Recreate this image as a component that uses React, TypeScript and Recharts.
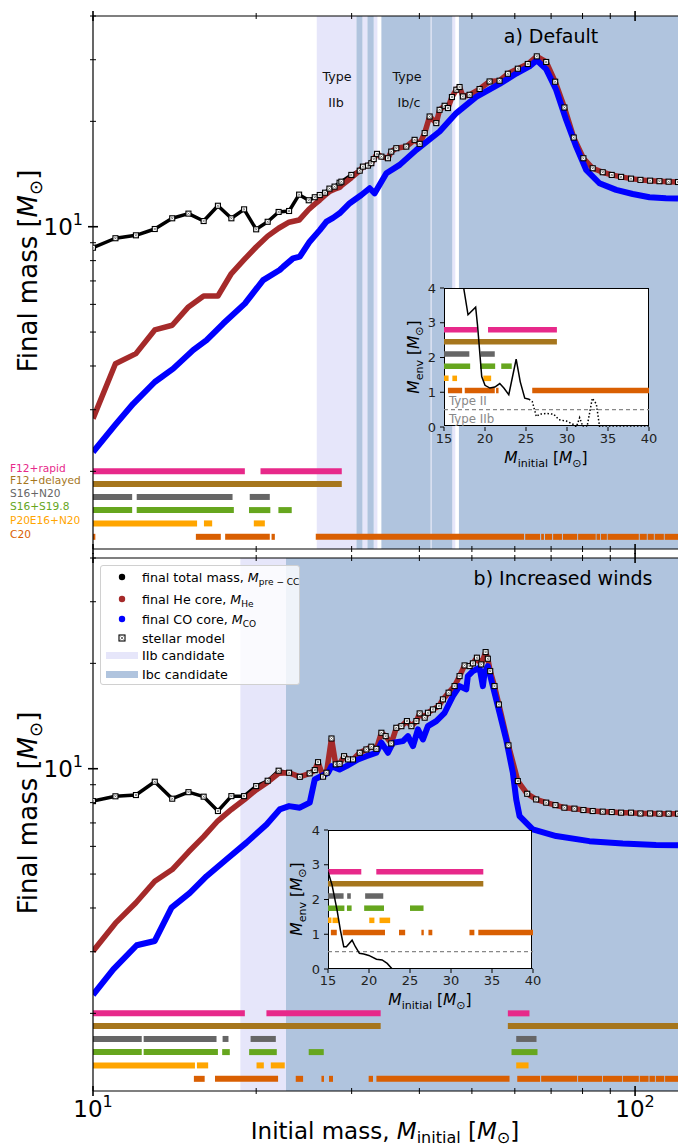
import React from 'react'
import { ComposedChart, Line, XAxis, YAxis, ReferenceArea, ReferenceLine } from 'recharts'

const FONT = 'DejaVu Sans, sans-serif'

// ---------- a) Default ----------
// low masses: total mass and He core differ
const aLowMass = [10, 11, 12, 13, 14, 15, 16, 17, 18, 19, 20, 21, 22, 23, 24, 25, 25.65, 26.2, 26.8, 27.3, 27.9, 28.5, 28.72, 29.96]
const aTotalLow = [8.71, 9.27, 9.45, 9.85, 10.57, 10.9, 10.38, 11.48, 10.57, 11.21, 9.83, 10.33, 11.02, 11.09, 12.35, 11.9, 12.14, 12.32, 12.51, 12.85, 13.02, 13.36, 13.45, 14.06]
const aHeLow = [2.83, 4.06, 4.34, 5.07, 5.23, 5.9, 6.34, 6.34, 7.35, 8.05, 8.75, 9.4, 9.9, 10.3, 10.45, 11.2, 11.6, 11.92, 12.3, 12.6, 12.8, 12.95, 13.1, 13.8]
// stripped stars: total mass == He core
const aStripMass = [31.05, 31.47, 32.16, 32.62, 32.95, 33.41, 34.04, 35.0, 35.5, 36.27, 37.84, 39.2, 40.05, 40.91, 41.78, 42.98, 43.59, 44.53, 45.16, 45.93, 46.8, 47.45, 48.12, 49.51, 51.66, 53.9, 56.23, 58.25, 60.77, 63.4, 65.87, 68.55, 71.22, 74.07, 77.06, 80.29, 83.53, 87.16, 90.56, 94.24, 98.3, 102.3, 106.6, 110.9, 115.3, 120]
const aStripFinal = [14.46, 14.85, 14.95, 15.19, 15.6, 16.15, 15.86, 15.69, 16.39, 16.76, 16.94, 17.71, 17.25, 18.51, 20.65, 19.77, 21.58, 22.16, 21.83, 23.47, 24.63, 25.07, 23.56, 23.82, 24.74, 26.0, 26.13, 27.36, 28.28, 29.17, 30.67, 29.56, 25.96, 21.91, 17.98, 15.69, 14.69, 14.31, 14.06, 13.88, 13.72, 13.61, 13.54, 13.49, 13.45, 13.42]
const aCoMass = [10, 10.98, 11.86, 13, 14.06, 15.3, 16.2, 17.39, 19.06, 20.6, 22.1, 22.42, 23.39, 24.07, 25.1, 26.2, 26.96, 27.72, 28.5, 29.76, 31.26, 32.39, 33.08, 34.77, 36.79, 39.5, 43.59, 46.8, 50.93, 56.23, 60.36, 63.85, 65.87, 68.55, 71.51, 74.62, 77.88, 81.23, 85.95, 92.27, 99.0, 106.3, 114.0, 120]
const aCo = [2.27, 2.71, 3.12, 3.6, 3.93, 4.44, 4.74, 5.29, 6.03, 7.04, 7.52, 7.68, 8.12, 8.21, 9.06, 9.78, 10.34, 10.6, 10.92, 11.67, 12.32, 12.88, 12.46, 14.22, 15.02, 16.58, 18.71, 21.12, 23.5, 25.6, 27.4, 28.7, 29.9, 28.2, 24.63, 20.21, 16.94, 14.53, 13.31, 12.74, 12.4, 12.14, 12.06, 12.04]
const aIIb = [[25.87, 30.62], [31.41, 32.08], [32.95, 33.47], [41.96, 42.14], [46.0, 46.6]]
const aIbc = [[30.62, 31.41], [32.08, 32.95], [34.04, 41.96], [42.14, 46.0], [47.32, 120]]
// explodability predictions (mass ranges that explode)
const aRapid = [[10, 19.06], [20.37, 28.77]]
const aDelayed = [[10, 28.77]]
const aS16N20 = [[10, 11.81], [12.04, 18.09], [19.46, 21.19]]
const aS16S198 = [[10, 11.81], [12.04, 18.19], [19.4, 21.24], [21.98, 23.26]]
const aP20 = [[10, 15.56], [16.02, 16.59], [19.8, 20.75]]
const aC20 = [[10, 10.1], [15.48, 17.21], [17.53, 21.19], [21.35, 21.65], [25.76, 62.4], [62.7, 66.8], [67.1, 67.9], [68.2, 70.3], [70.6, 73.3], [73.6, 78.2], [78.5, 84.6], [84.9, 86.2], [86.5, 88.7], [89.0, 101.6], [102.0, 105.1], [105.5, 108.3], [108.7, 113.0], [113.4, 120]]
// inset: envelope mass
const aEnvMass = [17.2, 17.4, 17.93, 18.86, 19.1, 19.6, 20.0, 20.6, 21.2, 21.8, 22.3, 22.9, 23.8, 24.3, 24.85, 25.37]
const aEnv = [4.6, 4.0, 3.23, 3.45, 2.9, 1.45, 1.2, 1.12, 1.15, 1.25, 1.12, 0.93, 1.95, 1.3, 0.83, 0.8]
const aEnvMassDot = [25.37, 25.77, 26.26, 26.67, 27.48, 28.37, 29.02, 29.92, 30.73, 31.14, 31.54, 31.95, 32.44, 33.09, 33.58, 33.98, 40]
const aEnvDot = [0.8, 0.73, 0.3, 0.37, 0.39, 0.37, 0.21, 0.17, 0.08, 0, 0.27, 0, 0, 0.83, 0.66, 0, 0]

// ---------- b) Increased winds ----------
const bLowMass = [10, 11, 12, 13, 14, 15, 16, 17, 18, 19, 20, 21, 22]
const bTotalLow = [8.08, 8.34, 8.41, 9.18, 8.21, 8.57, 8.32, 7.57, 8.35, 8.35, 8.92, 9.24, 9.87]
const bHeLow = [3.01, 3.62, 4.14, 4.77, 5.15, 5.78, 6.4, 7.1, 7.65, 8.15, 8.7, 9.15, 9.7]
const bStripMass = [23, 24.07, 25.1, 25.65, 26.01, 26.57, 26.96, 27.54, 28.04, 28.5, 29.05, 29.54, 30.18, 31.05, 31.94, 32.62, 33.33, 34.04, 34.66, 35.5, 36.27, 37.06, 37.94, 38.67, 39.5, 40.05, 40.91, 41.48, 42.37, 43.45, 44.21, 45.29, 46.45, 47.45, 48.47, 49.51, 50.21, 51.07, 52.03, 53.0, 53.5, 54.05, 55.04, 56.07, 58.4, 60.77, 63.24, 65.7, 68.55, 71.3, 74.07, 77.29, 80.29, 83.53, 87.16, 90.56, 94.24, 98.3, 102.3, 106.6, 110.9, 115.3, 120]
const bStripFinal = [9.74, 9.48, 9.7, 9.91, 10.44, 9.49, 9.74, 12.2, 10.29, 10.33, 10.86, 10.63, 10.63, 11.11, 11.35, 11.56, 11.4, 12.67, 12.39, 11.81, 13.09, 13.23, 13.68, 13.23, 13.68, 14.39, 13.99, 14.45, 14.77, 15.1, 15.78, 16.49, 17.22, 18.39, 19.73, 19.64, 20.0, 20.76, 19.86, 21.54, 20.62, 19.0, 17.22, 15.26, 11.66, 9.22, 8.48, 8.17, 8.0, 7.87, 7.74, 7.69, 7.62, 7.57, 7.54, 7.52, 7.49, 7.49, 7.45, 7.45, 7.44, 7.44, 7.44]
const bCoMass = [10, 10.9, 12.04, 13.0, 13.96, 15.09, 16.2, 17.64, 19.19, 20.9, 22.1, 23.0, 24.07, 25.11, 25.65, 26.39, 27.15, 27.54, 28.5, 29.35, 30.82, 31.94, 33.33, 34.04, 35.0, 35.76, 37.31, 38.11, 38.93, 39.76, 40.61, 41.48, 42.98, 44.53, 46.12, 47.45, 48.82, 49.15, 50.21, 51.66, 52.39, 52.76, 53.5, 54.65, 56.23, 57.84, 59.5, 60.36, 61.22, 64.75, 71.51, 82.37, 94.89, 109.3, 120]
const bCo = [2.26, 2.67, 3.13, 3.22, 4.01, 4.42, 4.93, 5.51, 6.15, 6.93, 7.65, 7.82, 7.74, 8.0, 9.32, 9.53, 9.74, 10.17, 9.95, 10.17, 10.63, 10.86, 11.11, 11.87, 11.11, 11.87, 11.99, 12.39, 11.6, 12.95, 12.12, 13.23, 13.68, 14.45, 16.12, 17.22, 16.85, 18.39, 19.0, 19.43, 17.22, 18.8, 19.64, 17.22, 14.45, 12.12, 9.74, 8.17, 7.32, 6.71, 6.42, 6.21, 6.11, 6.05, 6.04]
const bIIb = [[18.7, 22.7]]
const bIbc = [[22.7, 120]]
const bRapid = [[10, 19.06], [20.89, 33.94], [58.25, 63.85]]
const bDelayed = [[10, 33.94], [58.25, 120]]
const bS16N20 = [[10, 12.3], [12.4, 16.9], [17.34, 17.78], [19.53, 21.74], [60.36, 65.79]]
const bS16S198 = [[10, 12.3], [12.4, 17.0], [17.31, 17.88], [19.41, 21.83], [25.0, 26.65], [59.16, 66.07]]
const bP20 = [[10, 15.42], [15.55, 16.31], [20.03, 20.66], [21.28, 22.58], [60.36, 63.6]]
const bC20 = [[15.35, 16.07], [16.79, 21.95], [23.66, 24.41], [26.39, 26.68], [27.25, 27.72], [32.25, 32.85], [33.33, 58.67], [60.62, 66.8], [67.1, 78.2], [78.5, 86.9], [87.2, 94.7], [95.0, 101.6], [102.0, 105.9], [106.3, 108.8], [109.2, 113.2], [113.6, 120]]
const bEnvMass = [14.8, 15, 15.49, 16.1, 16.51, 16.92, 17.24, 17.94, 18.34, 18.83, 19.36, 19.98, 20.91, 21.6, 22.22, 22.83, 40]
const bEnv = [3.0, 2.8, 2.42, 1.7, 1.12, 0.64, 0.64, 0.83, 0.64, 0.45, 0.43, 0.39, 0.28, 0.26, 0.16, 0, 0]

const schemes = ['F12+rapid', 'F12+delayed', 'S16+N20', 'S16+S19.8', 'P20E16+N20', 'C20']
const schemeColors = ['#e7298a', '#a6761d', '#666666', '#66a61e', '#ffa500', '#d95f02']
const rowLevels = [2.0, 1.84, 1.69, 1.55, 1.42, 1.3]
const insetRowLevels = [2.8, 2.45, 2.1, 1.75, 1.4, 1.05]
const xTicks = [10, 20, 30, 40, 50, 60, 70, 80, 90, 100]
const yTicks = [2, 3, 4, 5, 6, 7, 8, 9, 10, 20, 30, 40]
const insetXTicks = [15, 20, 25, 30, 35, 40]
const insetYTicks = [0, 1, 2, 3, 4]

const pts = (xs: number[], ys: number[]) => xs.map((x, i) => ({ x, y: ys[i] }))

const panelA = {
  total: pts([...aLowMass, ...aStripMass], [...aTotalLow, ...aStripFinal]),
  he: pts([...aLowMass, ...aStripMass], [...aHeLow, ...aStripFinal]),
  co: pts(aCoMass, aCo),
  iib: aIIb,
  ibc: aIbc,
  rows: [aRapid, aDelayed, aS16N20, aS16S198, aP20, aC20],
}
const panelB = {
  total: pts([...bLowMass, ...bStripMass], [...bTotalLow, ...bStripFinal]),
  he: pts([...bLowMass, ...bStripMass], [...bHeLow, ...bStripFinal]),
  co: pts(bCoMass, bCo),
  iib: bIIb,
  ibc: bIbc,
  rows: [bRapid, bDelayed, bS16N20, bS16S198, bP20, bC20],
}

function XTick(props: any) {
  const { x, y, payload, labels } = props
  const v = payload.value
  const major = v === 10 || v === 100
  const h = major ? 5 : 3
  return (
    <g>
      <line x1={x} x2={x} y1={y - h} y2={y + h} stroke="#000" strokeWidth={major ? 1.6 : 1} />
      {labels && major ? (
        <text x={x} y={y + 26} textAnchor="middle" fontSize={23} fontFamily={FONT} fill="#000">
          10<tspan dy={-10} fontSize={16}>{v === 10 ? '1' : '2'}</tspan>
        </text>
      ) : null}
    </g>
  )
}

function YTick(props: any) {
  const { x, y, payload } = props
  const major = payload.value === 10
  const h = major ? 5 : 3
  return (
    <g>
      <line x1={x - h} x2={x + h} y1={y} y2={y} stroke="#000" strokeWidth={major ? 1.6 : 1} />
      {major ? (
        <text x={x - 10} y={y + 8} textAnchor="end" fontSize={23} fontFamily={FONT} fill="#000">
          10<tspan dy={-10} fontSize={16}>1</tspan>
        </text>
      ) : null}
    </g>
  )
}

const modelDot = (p: any) => {
  const { cx, cy, index } = p
  if (cx == null || cy == null) return <g key={`m${index}`} />
  return (
    <g key={`m${index}`}>
      <rect x={cx - 2.5} y={cy - 2.5} width={5} height={5} fill="#fff" stroke="#000" strokeWidth={1.1} />
      <path d={`M${cx - 1.2} ${cy - 1.2}L${cx + 1.2} ${cy + 1.2}M${cx + 1.2} ${cy - 1.2}L${cx - 1.2} ${cy + 1.2}`} stroke="#555" strokeWidth={0.7} />
    </g>
  )
}

function rowSegments(rows: number[][][], levels: number[], width: number, id: string) {
  return rows.flatMap((segs, r) =>
    segs.map((s, i) => (
      <ReferenceLine
        key={`${id}-${r}-${i}`}
        segment={[{ x: s[0], y: levels[r] }, { x: s[1], y: levels[r] }]}
        stroke={schemeColors[r]}
        strokeWidth={width}
        ifOverflow="hidden"
      />
    ))
  )
}

function MainPanel({ d, height, top, bottom, labels, id }: any) {
  // axes get a 1px size (a 0px axis is not drawn); margins are shrunk to match
  const axisProps = {
    dataKey: 'x',
    type: 'number' as const,
    scale: 'log' as const,
    domain: [10, 120],
    allowDataOverflow: true,
    ticks: xTicks,
    interval: 0,
    height: 1,
    tickSize: 0,
    tickMargin: 0,
    tickLine: false,
    axisLine: { stroke: '#000', strokeWidth: 1.2 },
  }
  return (
    <ComposedChart width={678} height={height} margin={{ top: top - 1, right: 0, bottom: bottom - 1, left: 92 }}>
      <XAxis {...axisProps} tick={(p: any) => <XTick {...p} labels={labels} />} />
      <XAxis {...axisProps} xAxisId="top" orientation="top" tick={(p: any) => <XTick {...p} labels={false} />} />
      <YAxis
        type="number"
        scale="log"
        domain={[1.2, 40]}
        allowDataOverflow
        ticks={yTicks}
        interval={0}
        width={1}
        tickSize={0}
        tickMargin={0}
        tickLine={false}
        axisLine={{ stroke: '#000', strokeWidth: 1.2 }}
        tick={(p: any) => <YTick {...p} />}
      />
      {d.iib.map((r: number[], i: number) => (
        <ReferenceArea key={`${id}iib${i}`} x1={r[0]} x2={r[1]} fill="#e6e6fa" fillOpacity={1} stroke="none" ifOverflow="hidden" />
      ))}
      {d.ibc.map((r: number[], i: number) => (
        <ReferenceArea key={`${id}ibc${i}`} x1={r[0]} x2={r[1]} fill="#b0c4de" fillOpacity={1} stroke="none" ifOverflow="hidden" />
      ))}
      {rowSegments(d.rows, rowLevels, 6, id)}
      <Line data={d.total} dataKey="y" stroke="#000" strokeWidth={3.5} strokeLinejoin="round" dot={false} isAnimationActive={false} />
      <Line data={d.he} dataKey="y" stroke="#a52a2a" strokeWidth={5.5} strokeLinejoin="round" dot={false} isAnimationActive={false} />
      <Line data={d.co} dataKey="y" stroke="#0000ff" strokeWidth={6} strokeLinejoin="round" dot={false} isAnimationActive={false} />
      <Line data={d.total} dataKey="y" stroke="none" dot={modelDot} isAnimationActive={false} />
    </ComposedChart>
  )
}

function Inset({ rows, solid, dotted, id }: any) {
  return (
    <ComposedChart width={255} height={181} margin={{ top: 10, right: 10, bottom: 31, left: 39 }}>
      <XAxis
        dataKey="x"
        type="number"
        domain={[15, 40]}
        allowDataOverflow
        ticks={insetXTicks}
        interval={0}
        height={1}
        tickSize={4}
        tickMargin={3}
        axisLine={false}
        tickLine={{ stroke: '#000' }}
        tick={{ fontSize: 13, fill: '#222', fontFamily: FONT }}
      />
      <YAxis
        type="number"
        domain={[0, 4]}
        allowDataOverflow
        ticks={insetYTicks}
        interval={0}
        width={1}
        tickSize={4}
        tickMargin={4}
        axisLine={false}
        tickLine={{ stroke: '#000' }}
        tick={{ fontSize: 13, fill: '#222', fontFamily: FONT }}
      />
      {rowSegments(rows, insetRowLevels, 5.5, id)}
      <ReferenceLine y={0.5} stroke="#888" strokeWidth={1.1} strokeDasharray="4 3" />
      <Line data={solid} dataKey="y" stroke="#000" strokeWidth={1.5} dot={false} isAnimationActive={false} />
      {dotted ? (
        <Line data={dotted} dataKey="y" stroke="#000" strokeWidth={1.5} strokeDasharray="1.5 2" dot={false} isAnimationActive={false} />
      ) : null}
    </ComposedChart>
  )
}

// "M_x [M_sun]" in svg text: subscripts are lowered with dy and the next piece raised back
function MassLabel({ sub, size, subSize, shift }: { sub: string; size: number; subSize: number; shift: number }) {
  return (
    <>
      <tspan fontStyle="italic">M</tspan>
      <tspan fontSize={subSize} dy={shift}>{sub}</tspan>
      <tspan fontSize={size} dy={-shift}> [</tspan>
      <tspan fontStyle="italic">M</tspan>
      <tspan fontSize={subSize} dy={shift}>⊙</tspan>
      <tspan fontSize={size} dy={-shift}>]</tspan>
    </>
  )
}

function LegendMarker({ kind, color }: { kind: string; color: string }) {
  if (kind === 'patch') return <div style={{ width: 32, height: 7, background: color }} />
  return (
    <svg width={32} height={12}>
      {kind === 'dot' ? (
        <circle cx={16} cy={6} r={3.2} fill={color} />
      ) : (
        <g>
          <rect x={13} y={3} width={6} height={6} fill="#fff" stroke="#000" strokeWidth={1.1} />
          <path d="M14.5 4.5L17.5 7.5M17.5 4.5L14.5 7.5" stroke="#555" strokeWidth={0.8} />
        </g>
      )}
    </svg>
  )
}

const subStyle = { fontSize: 9, position: 'relative' as const, top: 3 }
const legendRows = [
  { kind: 'dot', color: '#000', top: 11, label: <>final total mass, <i>M</i><span style={subStyle}>pre − CC</span></> },
  { kind: 'dot', color: '#a52a2a', top: 33, label: <>final He core, <i>M</i><span style={subStyle}>He</span></> },
  { kind: 'dot', color: '#0000ff', top: 53, label: <>final CO core, <i>M</i><span style={subStyle}>CO</span></> },
  { kind: 'model', color: '#000', top: 72, label: <>stellar model</> },
  { kind: 'patch', color: '#e6e6fa', top: 89.5, label: <>IIb candidate</> },
  { kind: 'patch', color: '#b0c4de', top: 108, label: <>Ibc candidate</> },
]

export default function App() {
  return (
    <div style={{ position: 'absolute', left: 0, top: 0, width: 678, height: 1148, background: '#fff', overflow: 'hidden', fontFamily: FONT }}>
      <div style={{ position: 'absolute', left: 0, top: 0 }}>
        <MainPanel d={panelA} height={560} top={16} bottom={11} labels={false} id="a" />
      </div>
      <div style={{ position: 'absolute', left: 0, top: 540 }}>
        <MainPanel d={panelB} height={608} top={18} bottom={57} labels id="b" />
      </div>

      {/* inset a */}
      <div style={{ position: 'absolute', left: 444, top: 288, width: 205, height: 138, background: '#fff', border: '1px solid #000', boxSizing: 'border-box' }} />
      <div style={{ position: 'absolute', left: 404, top: 278 }}>
        <Inset rows={panelA.rows} solid={pts(aEnvMass, aEnv)} dotted={pts(aEnvMassDot, aEnvDot)} id="ia" />
      </div>
      {/* inset b */}
      <div style={{ position: 'absolute', left: 328, top: 830, width: 204, height: 139, background: '#fff', border: '1px solid #000', boxSizing: 'border-box' }} />
      <div style={{ position: 'absolute', left: 288, top: 820 }}>
        <Inset rows={panelB.rows} solid={pts(bEnvMass, bEnv)} id="ib" />
      </div>

      {/* legend of panel b */}
      <div style={{ position: 'absolute', left: 100, top: 565, width: 200, height: 120, background: 'rgba(255,255,255,0.8)', border: '1px solid #d0d0d0', borderRadius: 3, boxSizing: 'border-box', fontSize: 12.7, color: '#000' }}>
        {legendRows.map((r, i) => (
          <div key={i} style={{ position: 'absolute', left: 0, top: r.top - 9, height: 18, display: 'flex', alignItems: 'center', whiteSpace: 'nowrap' }}>
            <div style={{ width: 40, display: 'flex', justifyContent: 'center', paddingLeft: 1 }}>
              <LegendMarker kind={r.kind} color={r.color} />
            </div>
            <span>{r.label}</span>
          </div>
        ))}
      </div>

      <svg width={678} height={1148} style={{ position: 'absolute', left: 0, top: 0, pointerEvents: 'none' }} fontFamily={FONT}>
        {/* axis titles */}
        {[271, 813].map((cy) => (
          <text key={cy} transform={`translate(37,${cy}) rotate(-90)`} textAnchor="middle" fontSize={26} fill="#000">
            Final mass [<tspan fontStyle="italic">M</tspan>
            <tspan fontSize={18} dy={5}>⊙</tspan>
            <tspan dy={-5}>]</tspan>
          </text>
        ))}
        <text x={385} y={1139} textAnchor="middle" fontSize={23} fill="#000">
          Initial mass, <MassLabel sub="initial" size={23} subSize={16} shift={4} />
        </text>

        <text x={551} y={43} textAnchor="middle" fontSize={19} fill="#000">a) Default</text>
        <text x={563} y={585} textAnchor="middle" fontSize={19} fill="#000">b) Increased winds</text>

        <text x={337} y={81} textAnchor="middle" fontSize={12.7} fill="#111">Type</text>
        <text x={336} y={107} textAnchor="middle" fontSize={12.7} fill="#111">IIb</text>
        <text x={407} y={81} textAnchor="middle" fontSize={12.7} fill="#111">Type</text>
        <text x={409} y={107} textAnchor="middle" fontSize={12.7} fill="#111">Ib/c</text>

        {schemes.map((s, i) => (
          <text key={s} x={10} y={[471.5, 484, 496.5, 509.5, 524, 538][i]} fontSize={10.6} fill={schemeColors[i]}>{s}</text>
        ))}

        {/* inset titles */}
        <text transform="translate(419,357) rotate(-90)" textAnchor="middle" fontSize={15.5} fill="#000">
          <MassLabel sub="env" size={15.5} subSize={11} shift={4} />
        </text>
        <text x={546} y={463} textAnchor="middle" fontSize={15.5} fill="#000">
          <MassLabel sub="initial" size={15.5} subSize={11} shift={4} />
        </text>
        <text transform="translate(302,899) rotate(-90)" textAnchor="middle" fontSize={15.5} fill="#000">
          <MassLabel sub="env" size={15.5} subSize={11} shift={4} />
        </text>
        <text x={430} y={1005} textAnchor="middle" fontSize={15.5} fill="#000">
          <MassLabel sub="initial" size={15.5} subSize={11} shift={4} />
        </text>
        <text x={449} y={405} fontSize={11.8} fill="#888">Type II</text>
        <text x={449} y={423} fontSize={11.8} fill="#888">Type IIb</text>
      </svg>
    </div>
  )
}
